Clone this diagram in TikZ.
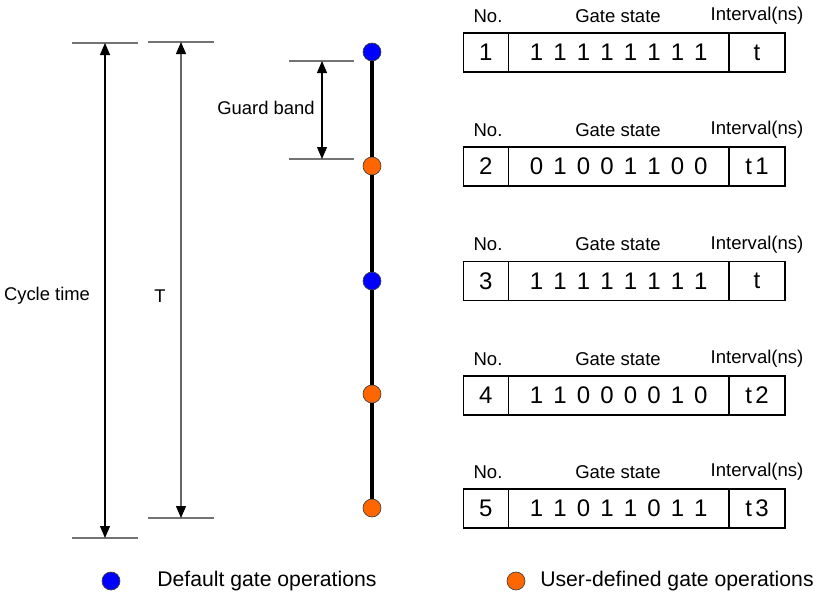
\documentclass[tikz,border=0pt]{standalone}
\usepackage{fontspec}
\setmainfont{Liberation Sans}
\usetikzlibrary{arrows.meta}
\newcommand\gsp{\hspace{7.6pt}}
\newcommand\tsp{\hspace{2.5pt}}
\begin{document}
\begin{tikzpicture}[x=0.75pt,y=-0.75pt,
  dimline/.style={draw=black!55,line width=0.9pt},
  dimarrow/.style={{Triangle[width=7.5pt,length=9pt,black]}-{Triangle[width=7.5pt,length=9pt,black]},line width=0.8pt},
  lbl/.style={font=\fontsize{13.8}{16}\selectfont,inner sep=0pt},
  dot/.style={circle,minimum size=13.5pt,inner sep=0pt,draw=black!75,line width=0.5pt},
  blue dot/.style={dot,fill=blue},
  orange dot/.style={dot,fill={rgb,255:red,255;green,102;blue,0}},
  cell/.style={draw,line width=1.1pt,minimum height=29.25pt,inner sep=0pt,font=\fontsize{18}{21}\selectfont},
  hdr/.style={font=\fontsize{13.9}{16}\selectfont,inner sep=0pt},
  legend/.style={font=\fontsize{15.9}{18}\selectfont,inner sep=0pt,anchor=west}]
\useasboundingbox (0,0) rectangle (820,600);

% dimension lines
\coordinate (ct1) at (72,43);  \coordinate (ct2) at (138,43);
\coordinate (cb1) at (72,538); \coordinate (cb2) at (138,538);
\coordinate (tt1) at (148,42); \coordinate (tt2) at (214,42);
\coordinate (tb1) at (148,518);\coordinate (tb2) at (214,518);
\coordinate (gt1) at (289,61); \coordinate (gt2) at (354,61);
\coordinate (gb1) at (289,159);\coordinate (gb2) at (354,159);
\draw[dimline] (ct1) -- (ct2);
\draw[dimline] (cb1) -- (cb2);
\draw[dimline] (tt1) -- (tt2);
\draw[dimline] (tb1) -- (tb2);
\draw[dimline] (gt1) -- (gt2);
\draw[dimline] (gb1) -- (gb2);
\coordinate (ca) at (105,43);  \coordinate (cz) at (105,538);
\coordinate (ta) at (181,42);  \coordinate (tz) at (181,518);
\coordinate (ga) at (322,61);  \coordinate (gz) at (322,159);
\draw[dimarrow] (ca) -- (cz);
\draw[dimarrow,draw=black!60] (ta) -- (tz);
\draw[dimarrow] (ga) -- (gz);
\node[lbl] (cyc) at (47,296) {Cycle time};
\node[lbl] (tlab) at (160,296) {T};
\node[lbl] (gband) at (266,108) {Guard band};

% timeline
\node[blue dot] (c1) at (372,52) {};
\node[orange dot] (c2) at (372,166) {};
\node[blue dot] (c3) at (372,281) {};
\node[orange dot] (c4) at (372,394) {};
\node[orange dot] (c5) at (372,508) {};
\draw[line width=3pt] (c1) -- (c2);
\draw[line width=3pt] (c2) -- (c3);
\draw[line width=3pt] (c3) -- (c4);
\draw[line width=3pt] (c4) -- (c5);

% tables
\foreach \i/\y/\g/\t in {
  1/52.5/{1\gsp1\gsp1\gsp1\gsp1\gsp1\gsp1\gsp1}/t,
  2/166.5/{0\gsp1\gsp0\gsp0\gsp1\gsp1\gsp0\gsp0}/t\tsp1,
  3/281/{1\gsp1\gsp1\gsp1\gsp1\gsp1\gsp1\gsp1}/t,
  4/395.5/{1\gsp1\gsp0\gsp0\gsp0\gsp0\gsp1\gsp0}/t\tsp2,
  5/508.5/{1\gsp1\gsp0\gsp1\gsp1\gsp0\gsp1\gsp1}/t\tsp3}{
  \node[cell,minimum width=33.75pt] (no\i) at (485.75,\y) {\i};
  \node[cell,minimum width=165.75pt] (gs\i) at (618.75,\y) {\g};
  \node[cell,minimum width=42pt] (iv\i) at (757,\y) {\t};
  \node[hdr] (hno\i) at (488,\y-36.5) {No.};
  \node[hdr] (hgs\i) at (618,\y-36.5) {Gate state};
  \node[hdr] (hiv\i) at (757,\y-36.5) {Interval(ns)};
}

% legend
\node[blue dot] (lb) at (111,581) {};
\node[legend] (lbt) at (157,581) {Default gate operations};
\node[orange dot] (lo) at (516,581) {};
\node[legend] (lot) at (540,581) {User-defined gate operations};
\end{tikzpicture}
\end{document}
